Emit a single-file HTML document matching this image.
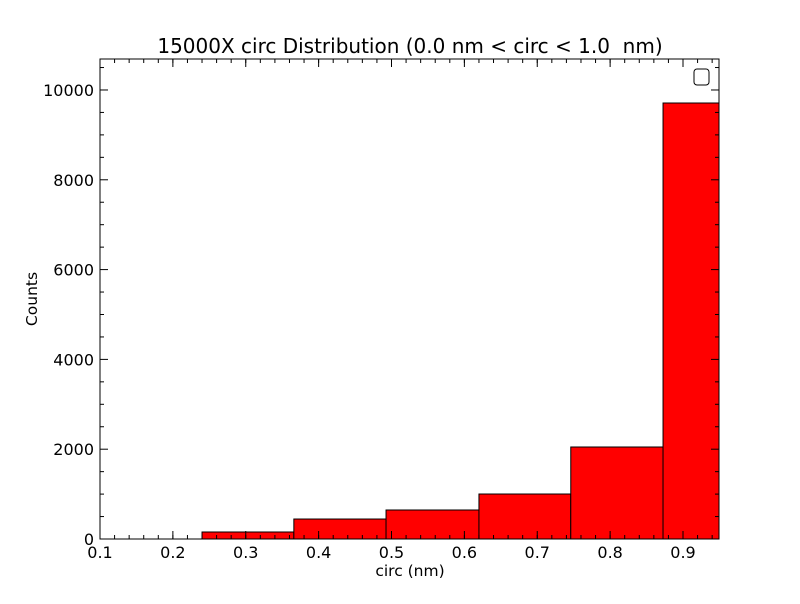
<!DOCTYPE html>
<html><head><meta charset="utf-8"><style>
body{margin:0;background:#fff;font-family:"DejaVu Sans","Liberation Sans",sans-serif;}
svg text{font-family:"DejaVu Sans","Liberation Sans",sans-serif;white-space:pre;}
</style></head><body>
<svg id="chart" width="800" height="600" viewBox="0 0 800 600" xmlns="http://www.w3.org/2000/svg">
<rect x="0" y="0" width="800" height="600" fill="#fff"/>
<text id="title" x="410" y="53" font-size="20" text-anchor="middle" xml:space="preserve">15000X circ Distribution (0.0 nm &lt; circ &lt; 1.0  nm)</text>
<g id="bars"></g>
<g id="axes"></g>
<rect x="100" y="59" width="619" height="480" fill="none" stroke="#000" stroke-width="1"/>
<rect x="694" y="69" width="15" height="16" rx="3" fill="#fff" stroke="#000"/>
<text x="410" y="576" font-size="15.5" text-anchor="middle">circ (nm)</text>
<text x="37" y="299" font-size="15.5" text-anchor="middle" transform="rotate(-90 37 299)">Counts</text>
</svg>
<script>
const binEdges=[0.113,0.240,0.366,0.4925,0.620,0.746,0.8726,0.999];
const counts=[0,156,445,646,1002,2049,9710];
const xTicks=[0.1,0.2,0.3,0.4,0.5,0.6,0.7,0.8,0.9];
const yTicks=[0,2000,4000,6000,8000,10000];
const X0=100,X1=719,Y0=539,Y1=59,xmin=0.1,xmax=0.9494,ymin=0,ymax=10690;
const sx=v=>X0+(v-xmin)/(xmax-xmin)*(X1-X0);
const sy=v=>Y0-(v-ymin)/(ymax-ymin)*(Y0-Y1);
const NS="http://www.w3.org/2000/svg";
const bars=document.getElementById('bars');
counts.forEach((c,i)=>{
 if(c<=0)return;
 const x0=sx(binEdges[i]),x1=Math.min(sx(binEdges[i+1]),X1);
 const r=document.createElementNS(NS,'rect');
 r.setAttribute('x',x0);r.setAttribute('y',sy(c));
 r.setAttribute('width',x1-x0);r.setAttribute('height',Y0-sy(c));
 r.setAttribute('fill','#ff0000');r.setAttribute('stroke','#000');r.setAttribute('stroke-width','1');
 
 
 bars.appendChild(r);
});
const ax=document.getElementById('axes');
function line(x1,y1,x2,y2){const l=document.createElementNS(NS,'line');l.setAttribute('x1',x1);l.setAttribute('y1',y1);l.setAttribute('x2',x2);l.setAttribute('y2',y2);l.setAttribute('stroke','#000');ax.appendChild(l);return l;}
function txt(x,y,s,anchor){const t=document.createElementNS(NS,'text');t.setAttribute('x',x);t.setAttribute('y',y);t.setAttribute('font-size','16');t.setAttribute('text-anchor',anchor);t.textContent=s;ax.appendChild(t);return t;}
xTicks.forEach(v=>{const x=sx(v);line(x,Y0,x,Y0-8);line(x,Y1,x,Y1+8);
 const t=txt(x,558,v.toFixed(1),'middle');
 
 });
for(let v=0.12;v<xmax;v+=0.02){const x=sx(v);line(x,Y0,x,Y0-4);line(x,Y1,x,Y1+4);}
yTicks.forEach(v=>{const y=sy(v);line(X0,y,X0+8,y);line(X1,y,X1-8,y);
 const t=txt(94,y+6,String(v),'end');
 
 });
for(let v=500;v<ymax;v+=500){if(v%2000===0)continue;const y=sy(v);line(X0,y,X0+4,y);line(X1,y,X1-4,y);}
</script>
</body></html>
